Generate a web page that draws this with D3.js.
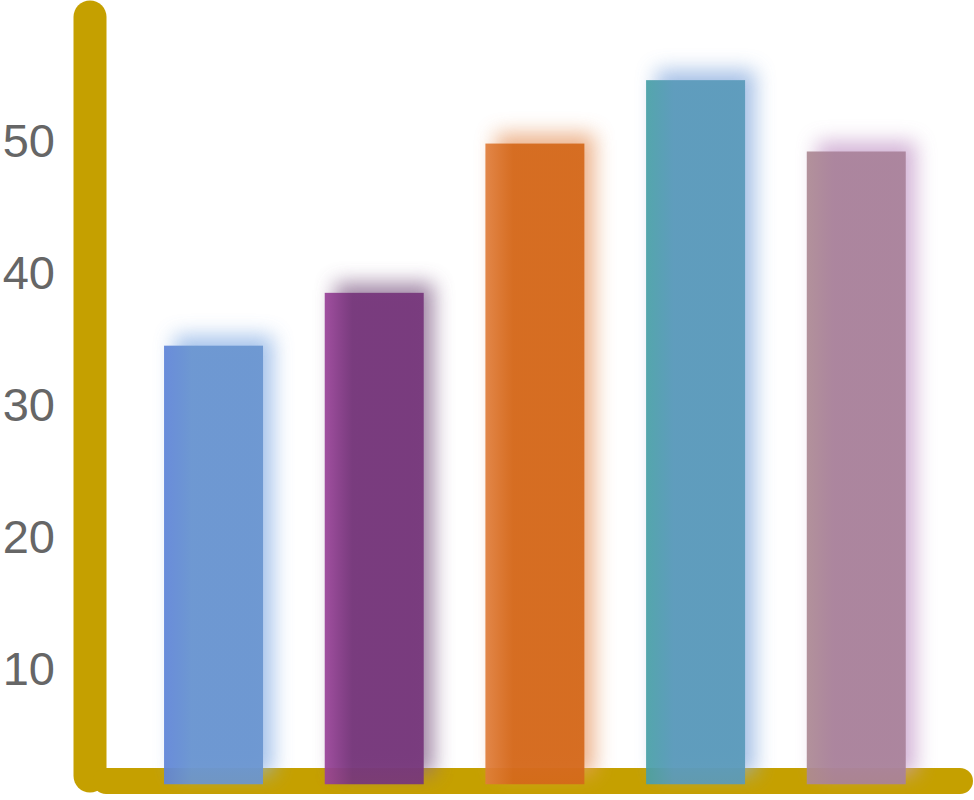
<!DOCTYPE html>
<html>
<head>
<meta charset="utf-8">
<script src="https://d3js.org/d3.v7.min.js"></script>
<style>
  html, body { margin: 0; padding: 0; background: #fff; }
  svg { display: block; }
</style>
</head>
<body>
<div id="chart"></div>
<script>
// Bar values
const categories = ['A', 'B', 'C', 'D', 'E'];
const values = [34.4, 38.4, 49.7, 54.5, 49.1];
const tickValues = [10, 20, 30, 40, 50];
const barFloor = 1.2; // bars start slightly below the drawn axis line

const mainColors = ['#6a95d0', '#76367b', '#d4681a', '#5a9aba', '#a9829a'];
const edgeColors = ['#5f84d8', '#9a4399', '#e07e3c', '#48a0a6', '#ad8a94'];
const glowColors = ['#8fb4e6', '#8a6a90', '#e8a070', '#8fb0e0', '#c8a0cc'];

(function() {
	'use strict';

	const width = 974;
	const height = 800;
	const axisColor = '#c5a000';

	const svg = d3.select('#chart').append('svg')
		.attr('width', width)
		.attr('height', height);

	const defs = svg.append('defs');

	const y = d3.scaleLinear()
		.domain([0, 60])
		.range([800.1, 7.5]);

	const x = d3.scaleBand()
		.domain(categories)
		.range([133.2, 936.6])
		.paddingInner(0.384)
		.paddingOuter(0.192);

	// Per-bar gradient: slightly different tint at the left edge
	categories.forEach((c, i) => {
		const grad = defs.append('linearGradient')
			.attr('id', `grad-${i}`)
			.attr('x1', '0%').attr('x2', '100%')
			.attr('y1', '0%').attr('y2', '0%');
		grad.append('stop').attr('offset', '0%').attr('stop-color', edgeColors[i]);
		grad.append('stop').attr('offset', '28%').attr('stop-color', mainColors[i]);
		grad.append('stop').attr('offset', '100%').attr('stop-color', mainColors[i]);
	});

	defs.append('filter')
		.attr('id', 'glow')
		.attr('x', '-50%').attr('y', '-50%')
		.attr('width', '200%').attr('height', '200%')
		.append('feGaussianBlur')
		.attr('stdDeviation', 10);

	// Axes (drawn as thick rounded strokes)
	const g = svg.append('g');

	g.append('line')
		.attr('x1', 90).attr('x2', 90)
		.attr('y1', 17).attr('y2', 776)
		.attr('stroke', axisColor)
		.attr('stroke-width', 33)
		.attr('stroke-linecap', 'round');

	g.append('line')
		.attr('x1', 106).attr('x2', 960)
		.attr('y1', 781).attr('y2', 781)
		.attr('stroke', axisColor)
		.attr('stroke-width', 26)
		.attr('stroke-linecap', 'round');

	// Tick labels
	g.selectAll('.tick-label')
		.data(tickValues)
		.enter()
		.append('text')
		.attr('class', 'tick-label')
		.attr('x', 55)
		.attr('y', d => y(d))
		.attr('dy', '0.36em')
		.attr('text-anchor', 'end')
		.style('font-family', '"Liberation Sans", Arial, sans-serif')
		.style('font-size', '47px')
		.style('fill', '#666')
		.text(d => d);

	const data = categories.map((c, i) => ({ cat: c, value: values[i], i }));

	// Soft glow behind each bar, shifted up and to the right
	g.selectAll('.bar-glow')
		.data(data)
		.enter()
		.append('rect')
		.attr('class', 'bar-glow')
		.attr('x', d => x(d.cat) + 10)
		.attr('y', d => y(d.value) - 10)
		.attr('width', x.bandwidth())
		.attr('height', d => y(barFloor) - y(d.value))
		.attr('fill', d => glowColors[d.i])
		.attr('opacity', 0.8)
		.attr('filter', 'url(#glow)');

	g.selectAll('.bar')
		.data(data)
		.enter()
		.append('rect')
		.attr('class', 'bar')
		.attr('x', d => x(d.cat))
		.attr('y', d => y(d.value))
		.attr('width', x.bandwidth())
		.attr('height', d => y(barFloor) - y(d.value))
		.attr('fill', d => `url(#grad-${d.i})`)
		.attr('opacity', 0.93);
})();
</script>
</body>
</html>
